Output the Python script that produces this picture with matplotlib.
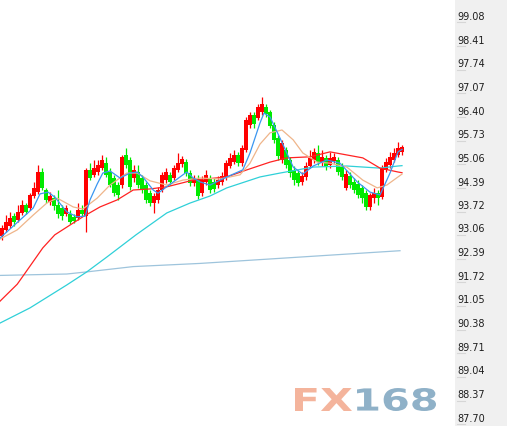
import matplotlib
matplotlib.use("Agg")
import matplotlib.pyplot as plt
import numpy as np
from matplotlib.patches import Rectangle, PathPatch
from matplotlib.lines import Line2D
from matplotlib.textpath import TextPath
from matplotlib.font_manager import FontProperties
from matplotlib import transforms as mtransforms

# ---------------- data ----------------
opens = [92.85, 93.02, 93.13, 93.41, 93.30, 93.50, 93.72, 93.64, 93.98, 94.09,
         94.66, 94.15, 93.81, 93.92, 93.72, 93.64, 93.47, 93.47, 93.39, 93.36,
         93.58, 93.41, 94.72, 94.58, 94.66, 94.77, 94.91, 94.66, 94.49, 94.29,
         94.29, 95.14, 95.00, 94.49, 94.66, 94.49, 94.29, 94.06, 93.78, 93.87,
         94.15, 94.43, 94.58, 94.49, 94.72, 94.89, 94.94, 94.63, 94.35, 94.46,
         94.06, 94.38, 94.49, 94.38, 94.29, 94.38, 94.52, 94.83, 94.94, 95.14,
         94.91, 95.28, 95.99, 96.28, 96.19, 96.36, 96.50, 96.36, 95.99, 95.62,
         95.00, 95.28, 95.00, 94.72, 94.63, 94.38, 94.52, 94.83, 95.00, 95.20,
         94.91, 95.06, 94.86, 94.97, 95.00, 94.80, 94.21, 94.55, 94.38, 94.32,
         94.21, 94.06, 93.67, 93.92, 94.06, 93.95, 94.72, 94.86, 95.00, 95.14,
         95.23]
closes = [93.07, 93.24, 93.36, 93.24, 93.53, 93.72, 93.53, 94.01, 94.21, 94.66,
          94.21, 93.87, 93.98, 93.70, 93.47, 93.41, 93.64, 93.24, 93.27, 93.58,
          93.47, 94.72, 94.49, 94.77, 94.86, 95.00, 94.58, 94.29, 94.06, 94.01,
          95.09, 94.86, 94.24, 94.72, 94.29, 94.15, 93.87, 93.78, 93.98, 94.15,
          94.58, 94.66, 94.38, 94.77, 94.91, 95.03, 94.63, 94.35, 94.49, 93.98,
          94.43, 94.58, 94.15, 94.18, 94.43, 94.55, 94.91, 95.06, 95.14, 94.91,
          95.34, 96.13, 96.28, 96.02, 96.50, 96.59, 96.30, 95.96, 95.57, 95.11,
          95.48, 94.86, 94.63, 94.43, 94.35, 94.55, 94.83, 95.06, 95.23, 94.94,
          95.09, 94.80, 95.06, 95.09, 94.66, 94.52, 94.60, 94.29, 94.15, 94.01,
          93.92, 93.67, 94.01, 94.06, 93.92, 94.77, 94.94, 95.09, 95.20, 95.34,
          95.37]
highs = [93.16, 93.44, 93.53, 93.50, 93.72, 93.87, 93.78, 94.06, 94.38, 94.86,
         94.77, 94.21, 94.09, 94.01, 94.15, 93.72, 93.72, 93.58, 93.47, 93.78,
         93.72, 94.77, 94.91, 95.00, 95.00, 95.14, 95.09, 94.77, 94.58, 94.38,
         95.14, 95.34, 95.09, 94.86, 94.86, 94.58, 94.38, 94.15, 94.06, 94.24,
         94.66, 94.77, 94.66, 94.86, 95.20, 95.11, 95.03, 94.72, 94.58, 94.58,
         94.55, 94.72, 94.58, 94.49, 94.55, 94.66, 95.00, 95.20, 95.28, 95.23,
         95.43, 96.22, 96.36, 96.36, 96.59, 96.79, 96.59, 96.42, 96.08, 95.71,
         95.57, 95.37, 95.09, 94.83, 94.72, 94.66, 94.94, 95.28, 95.34, 95.43,
         95.28, 95.14, 95.23, 95.20, 95.09, 94.91, 94.72, 94.66, 94.49, 94.43,
         94.29, 94.15, 94.06, 94.21, 94.15, 94.86, 95.06, 95.23, 95.34, 95.51,
         95.43]
lows = [92.73, 92.96, 93.07, 93.13, 93.24, 93.44, 93.47, 93.58, 93.92, 94.04,
        94.15, 93.78, 93.72, 93.58, 93.36, 93.30, 93.41, 93.19, 93.22, 93.30,
        93.41, 92.96, 94.43, 94.52, 94.58, 94.72, 94.52, 94.24, 93.98, 93.87,
        94.21, 94.77, 94.15, 94.38, 94.21, 94.06, 93.78, 93.70, 93.50, 93.78,
        94.09, 94.35, 94.29, 94.43, 94.66, 94.80, 94.55, 94.26, 94.26, 93.90,
        93.98, 94.29, 94.06, 94.09, 94.21, 94.29, 94.43, 94.77, 94.89, 94.83,
        94.83, 95.23, 95.91, 95.91, 96.13, 96.28, 96.22, 95.91, 95.48, 95.00,
        94.91, 94.77, 94.52, 94.29, 94.26, 94.29, 94.43, 94.77, 94.91, 94.86,
        94.83, 94.72, 94.77, 94.91, 94.58, 94.43, 94.15, 94.21, 94.06, 93.92,
        93.78, 93.58, 93.58, 93.78, 93.72, 93.90, 94.66, 94.77, 94.94, 95.09,
        95.14]

# moving averages (bar index, price)
ma_blue_x = [-0.5, 4.5, 7.8, 9.5, 11.5, 13.2, 16.2, 18.8, 20.8, 22, 23.8, 25.2, 27, 29.5,
             32, 33.8, 35.2, 37.8, 39, 40.8, 42.5, 44.5, 46.2, 47.8, 49.5, 52, 56.2, 60.2,
             62, 64.5, 65.5, 67, 69.5, 72.8, 75.2, 77.8, 81.2, 84.5, 88.8, 92, 94.5, 97, 99, 100]
ma_blue_y = [92.79, 93.30, 93.64, 94.04, 94.09, 93.95, 93.53, 93.39, 93.41, 93.87, 94.32,
             94.63, 94.69, 94.49, 94.63, 94.66, 94.52, 94.15, 94.06, 94.21, 94.35, 94.52,
             94.66, 94.49, 94.38, 94.29, 94.52, 94.72, 95.20, 96.05, 96.33, 96.22, 95.62,
             94.80, 94.60, 94.83, 95.00, 94.91, 94.38, 94.09, 94.01, 94.63, 95.23, 95.30]
ma_tan_x = [-0.5, 3.8, 7.8, 11.2, 13.8, 17.8, 20.2, 23.8, 27, 31.2, 33.8, 37, 41.2, 45.2,
            49.5, 54.5, 59.5, 62, 64.5, 67, 70, 72.8, 75.2, 78.8, 82, 86.2, 90.2, 93.8,
            96.2, 99, 100]
ma_tan_y = [92.76, 93.02, 93.44, 93.78, 93.92, 93.67, 93.61, 93.92, 94.29, 94.63, 94.63,
            94.41, 94.29, 94.43, 94.49, 94.46, 94.58, 94.91, 95.45, 95.77, 95.85, 95.57,
            95.20, 94.94, 94.91, 94.80, 94.43, 94.21, 94.29, 94.52, 94.60]
ma_red_x = [-0.5, 3.8, 5.8, 10.2, 13.2, 20.2, 24.5, 28.8, 32.8, 37, 41.2, 47.8, 56.2,
            61.2, 67, 71.2, 77, 82, 90.2, 94.5, 99, 100]
ma_red_y = [91.00, 91.48, 91.80, 92.51, 92.88, 93.39, 93.67, 93.87, 94.15, 94.18, 94.24,
            94.43, 94.52, 94.72, 94.94, 95.06, 95.09, 95.23, 95.06, 94.77, 94.66, 94.64]
ma_cyan_x = [-0.5, 7, 16.2, 21.2, 26.2, 33.5, 41.2, 47, 52, 56.2, 64.5, 69.5, 77.8,
             86.2, 94.5, 99, 100]
ma_cyan_y = [90.38, 90.81, 91.46, 91.83, 92.25, 92.88, 93.50, 93.78, 93.98, 94.21, 94.52,
             94.63, 94.80, 94.83, 94.77, 94.83, 94.84]
ma_long_x = [-0.5, 16.2, 21.2, 32.8, 49.5, 66.2, 82.8, 99.5]
ma_long_y = [91.73, 91.77, 91.83, 91.98, 92.07, 92.19, 92.31, 92.43]

price_ticks = [99.08, 98.41, 97.74, 97.07, 96.40, 95.73, 95.06, 94.39, 93.72, 93.06,
               92.39, 91.72, 91.05, 90.38, 89.71, 89.04, 88.37, 87.70]
price_labels = ["99.08", "98.41", "97.74", "97.07", "96.40", "95.73", "95.06", "94.39",
                "93.72", "93.06", "92.39", "91.72", "91.05", "90.38", "89.71", "89.04",
                "88.37", "87.70"]

# ---------------- figure ----------------
W, H, DPI = 507, 426, 100
fig = plt.figure(figsize=(W / DPI, H / DPI), dpi=DPI, facecolor="white")
plot_w = 455
ax = fig.add_axes([0, 0, plot_w / W, 1])
ax.set_facecolor("white")

# right price panel
fig.add_artist(Rectangle((plot_w / W, 0), 1 - plot_w / W, 1, transform=fig.transFigure,
                         facecolor="#f0f0f0", edgecolor="none", zorder=-1))

o = np.array(opens); c = np.array(closes); h = np.array(highs); l = np.array(lows)
idx = np.arange(len(c))
up = c >= o
RED, GREEN = "#ff0000", "#00ea00"
cols = np.where(up, RED, GREEN)

ax.vlines(idx, l, h, colors=cols, linewidth=0.9, zorder=2)
ax.bar(idx, np.abs(c - o), bottom=np.minimum(o, c), width=0.82, color=cols,
       linewidth=0, zorder=2.5)

lw = 0.9
ax.plot(ma_long_x, ma_long_y, color="#9ec4dc", lw=lw, zorder=3)
ax.plot(ma_cyan_x, ma_cyan_y, color="#2fd0d8", lw=lw, zorder=3)
ax.plot(ma_red_x, ma_red_y, color="#ff2222", lw=lw, zorder=3)
ax.plot(ma_tan_x, ma_tan_y, color="#efb58a", lw=lw, zorder=3)
ax.plot(ma_blue_x, ma_blue_y, color="#3a96f0", lw=lw, zorder=3.5)

ax.set_xlim(-0.5, plot_w / 4 - 0.5)
ax.set_ylim(87.464, 99.533)
for s in ax.spines.values():
    s.set_visible(False)
ax.set_xticks([])
ax.yaxis.tick_right()
ax.set_yticks(price_ticks)
ax.set_yticklabels(price_labels)
ax.tick_params(axis="y", length=0, pad=1.6, labelsize=7, labelcolor="#1e1e1e")

# short grey tick marks below labels
off = mtransforms.ScaledTranslation(0, -6.5 / DPI, fig.dpi_scale_trans)
btr = mtransforms.blended_transform_factory(fig.transFigure, ax.transData) + off
for v in price_ticks:
    fig.add_artist(Line2D([457 / W, 465 / W], [v, v], transform=btr,
                          color="#d6d6d6", lw=0.8, zorder=1))

# FX168 watermark
fp = FontProperties(family="DejaVu Sans", weight="bold")


def logo(text, x0, x1, ybot, ytop, color):
    tp = TextPath((0, 0), text, size=1, prop=fp)
    bb = tp.get_extents()
    tr = (mtransforms.Affine2D().translate(-bb.x0, -bb.y0)
          .scale((x1 - x0) / bb.width, (ytop - ybot) / bb.height)
          .translate(x0, ybot))
    fig.add_artist(PathPatch(tr.transform_path(tp), facecolor=color, edgecolor="none",
                             transform=mtransforms.IdentityTransform(), zorder=5))


logo("FX", 295, 352, H - 411, H - 388, "#f4b49c")
logo("168", 357, 436, H - 411, H - 388, "#8fb1c8")

fig.savefig("out.png", dpi=DPI, facecolor="white")
